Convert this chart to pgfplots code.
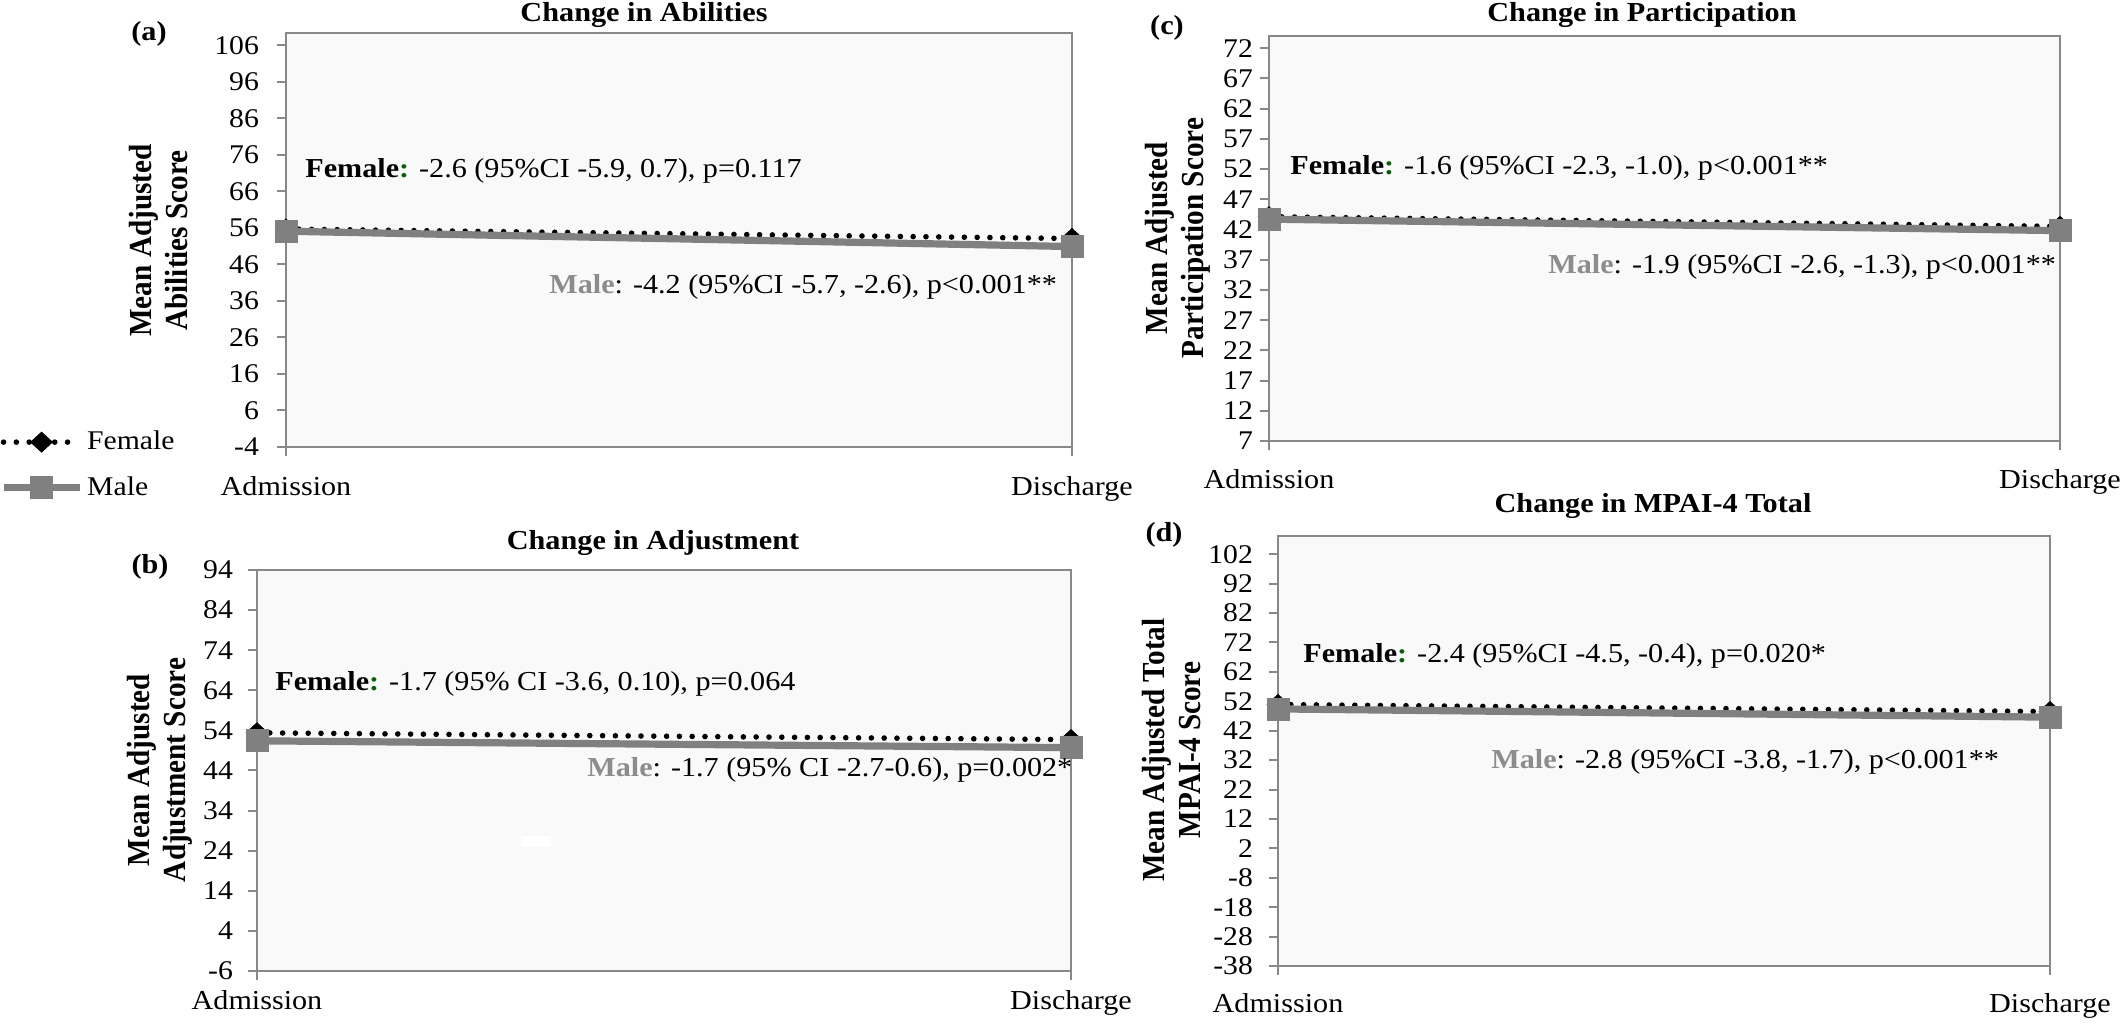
\documentclass[border=0pt]{standalone}
\usepackage{pgfplots}
\pgfplotsset{compat=1.18}
\usepackage{pgfplotstable}
\usepackage{fontspec}
\setmainfont[FakeStretch=1.1]{Liberation Serif}
\newfontfamily\ylabfont{Liberation Serif}
\definecolor{bgc}{RGB}{249,249,249}
\definecolor{axc}{RGB}{136,136,136}
\definecolor{malec}{RGB}{128,128,128}
\definecolor{malet}{RGB}{140,140,140}
\definecolor{colg}{RGB}{0,100,0}

\pgfplotstableread{
x female male
0 55.7 55.1
1 53.1 50.9
}\dataA
\pgfplotstableread{
x female male
0 53.4 51.4
1 51.7 49.7
}\dataB
\pgfplotstableread{
x female male
0 44.1 43.7
1 42.5 41.8
}\dataC
\pgfplotstableread{
x female male
0 50.9 49.4
1 48.5 46.6
}\dataD

\pgfplotsset{
  panel/.style={
    scale only axis, clip=false, anchor=south west,
    xmin=0, xmax=1, xtick={0,1}, xticklabels={Admission,Discharge},
    axis background/.style={fill=bgc},
    axis line style={draw=axc, line width=1pt},
    every tick/.style={draw=axc, line width=1pt},
    tick align=outside, tick pos=left,
    major tick length=4.5pt,
    yticklabel style={font=\fontsize{13.5}{15}\selectfont},
    xticklabel style={font=\fontsize{13.7}{16}\selectfont},
    legend image code/.code={
      \draw[mark repeat=2, mark phase=2, ##1] plot coordinates {(0pt,0pt) (19pt,0pt) (38pt,0pt)};
    },
  },
  fem/.style={black, line width=2.8pt, dash pattern=on 0pt off 6.4pt, line cap=round,
    mark=diamond*, mark size=5pt, mark options={solid, fill=black, line width=0.4pt, xscale=1.45}},
  mal/.style={malec, line width=3.6pt, mark=square*, mark size=5.5pt,
    mark options={solid, fill=malec, line width=0.4pt}},
}

\begin{document}
\begin{tikzpicture}[x=1pt,y=1pt]
\path[use as bounding box] (0,0) rectangle (1063,513);

% (a)
\begin{axis}[panel, at={(143pt,289.5pt)}, width=393pt, height=207pt,
  ymin=-4, ymax=109.4, ytick={-4,6,...,106},
  yticklabels={-4,6,16,26,36,46,56,66,76,86,96,106},
  yticklabel style={xshift=-5.5pt}, xticklabel style={yshift=-6.5pt},
  legend cell align=left,
  legend style={at={(-0.3639,-0.0435)}, anchor=west, draw=none, fill=none,
    inner sep=0pt, outer sep=0pt, font=\fontsize{13.5}{16}\selectfont, row sep=8pt}]
\addplot[fem] table[x=x,y=female]{\dataA};
\addlegendentry{Female}
\addplot[mal] table[x=x,y=male]{\dataA};
\addlegendentry{Male}
\end{axis}

% (c)
\begin{axis}[panel, at={(634.5pt,292.5pt)}, width=395.5pt, height=202.5pt,
  ymin=7, ymax=74, ytick={7,12,...,72},
  yticklabels={7,12,17,22,27,32,37,42,47,52,57,62,67,72},
  xticklabel style={yshift=-6.3pt}]
\addplot[fem] table[x=x,y=female]{\dataC};
\addplot[mal] table[x=x,y=male]{\dataC};
\end{axis}

% (b)
\begin{axis}[panel, at={(128.5pt,27.5pt)}, width=407pt, height=200.5pt,
  ymin=-6, ymax=94, ytick={-6,4,...,94},
  yticklabels={-6,4,14,24,34,44,54,64,74,84,94},
  yticklabel style={xshift=-4pt}, xticklabel style={yshift=-1.5pt}]
\addplot[fem] table[x=x,y=female]{\dataB};
\addplot[mal] table[x=x,y=male]{\dataB};
\end{axis}

% (d)
\begin{axis}[panel, at={(639pt,30pt)}, width=386pt, height=215pt,
  ymin=-38, ymax=108.2, ytick={-38,-28,...,102},
  yticklabels={-38,-28,-18,-8,2,12,22,32,42,52,62,72,82,92,102},
  yticklabel style={xshift=-4.5pt}, xticklabel style={yshift=-5.5pt}]
\addplot[fem] table[x=x,y=female]{\dataD};
\addplot[mal] table[x=x,y=male]{\dataD};
\end{axis}

\fill[white] (260.5,89.5) rectangle (275.5,95);

% titles
\begin{scope}[every node/.style={font=\bfseries\fontsize{13.75}{16}\selectfont, inner sep=0pt}]
\node at (322,505.5) {Change in Abilities};
\node at (821,505.5) {Change in Participation};
\node at (326.5,241.5) {Change in Adjustment};
\node at (826.5,260) {Change in MPAI-4 Total};
\node at (74.5,496) {(a)};
\node at (583.5,499) {(c)};
\node at (75,229.5) {(b)};
\node at (582,245.5) {(d)};
\end{scope}

% y labels
\begin{scope}[every node/.style={font=\ylabfont\bfseries\fontsize{14.6}{16.5}\selectfont, inner sep=0pt, rotate=90, align=center, yscale=1.1}]
\node at (79.25,392.75) {Mean Adjusted\\Abilities Score};
\node at (589,394) {Mean Adjusted\\Participation Score};
\node at (80,128) {Mean Adjusted\\Adjustment Score};
\node at (585.85,138) {Mean Adjusted Total\\MPAI-4 Score};
\end{scope}

% annotations
\begin{scope}[every node/.style={font=\fontsize{13.7}{16}\selectfont, inner sep=0pt, anchor=west}]
\node at (152.5,427.5) {\textbf{Female}\textcolor{colg}{\textbf{:}} -2.6 (95\%CI -5.9, 0.7), p=0.117};
\node at (274.5,369.5) {\textcolor{malet}{\textbf{Male}}: -4.2 (95\%CI -5.7, -2.6), p<0.001**};
\node at (645,429.25) {\textbf{Female}\textcolor{colg}{\textbf{:}} -1.6 (95\%CI -2.3, -1.0), p<0.001**};
\node at (774,379.5) {\textcolor{malet}{\textbf{Male}}: -1.9 (95\%CI -2.6, -1.3), p<0.001**};
\node at (137.5,170.8) {\textbf{Female}\textcolor{colg}{\textbf{:}} -1.7 (95\% CI -3.6, 0.10), p=0.064};
\node at (293.5,128) {\textcolor{malet}{\textbf{Male}}: -1.7 (95\% CI -2.7-0.6), p=0.002*};
\node at (651.5,184.8) {\textbf{Female}\textcolor{colg}{\textbf{:}} -2.4 (95\%CI -4.5, -0.4), p=0.020*};
\node at (745.5,132.15) {\textcolor{malet}{\textbf{Male}}: -2.8 (95\%CI -3.8, -1.7), p<0.001**};
\end{scope}
\end{tikzpicture}
\end{document}
